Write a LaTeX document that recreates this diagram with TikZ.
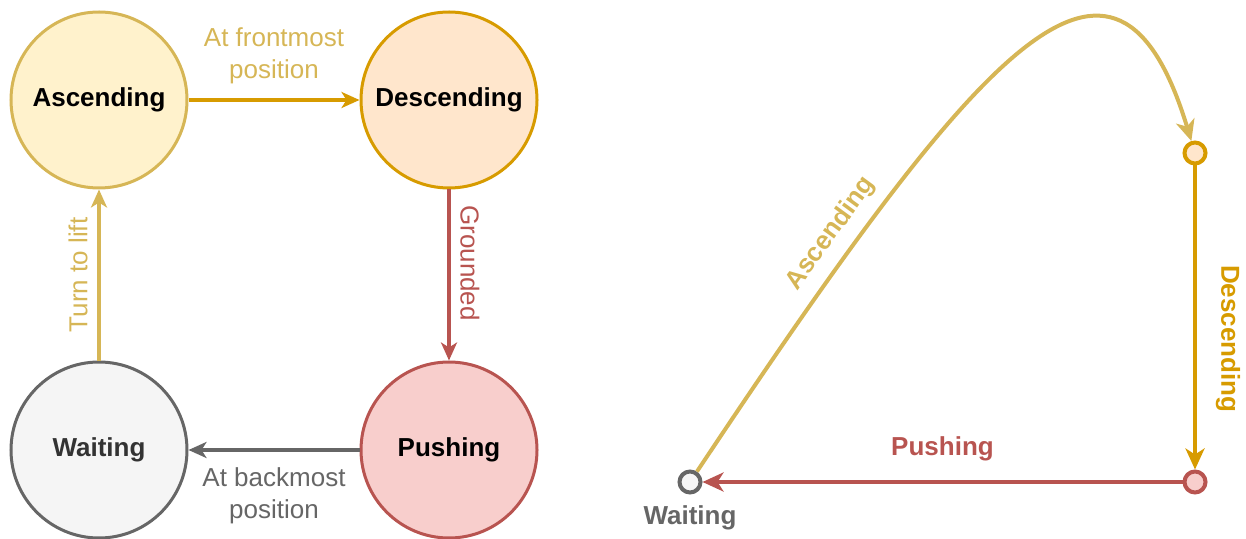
\documentclass[tikz,border=0pt]{standalone}
\usepackage{fontspec}
\setmainfont{Liberation Sans}
\usepackage{tikz}
\usetikzlibrary{arrows.meta}

\definecolor{ascfill}{HTML}{FFF2CC}
\definecolor{ascline}{HTML}{D6B656}
\definecolor{descfill}{HTML}{FFE6CC}
\definecolor{descline}{HTML}{D79B00}
\definecolor{pushfill}{HTML}{F8CECC}
\definecolor{pushline}{HTML}{B85450}
\definecolor{waitfill}{HTML}{F5F5F5}
\definecolor{waitline}{HTML}{666666}

\begin{document}
\begin{tikzpicture}[x=0.5pt,y=-0.5pt]
  \tikzset{tipA/.tip={Stealth[length=9pt,width=8pt,inset=2.5pt]}}
  \tikzset{tipB/.tip={Stealth[length=10.5pt,width=9.5pt,inset=3pt]}}
  \tikzset{state/.style = {shape=circle,draw,line width=1.5pt,minimum size=88pt,inner sep=1pt,font=\fontsize{13}{16}\selectfont\bfseries}}
  \tikzset{dot/.style = {shape=circle,draw,line width=2pt,minimum size=10.5pt,inner sep=0pt}}
  \tikzset{edge/.style = {-tipA, line width=1.6pt}}
  \tikzset{track/.style = {-tipB, line width=2pt}}
  \tikzset{lbl/.style = {font=\fontsize{13}{16}\selectfont, align=center}}
  \tikzset{blbl/.style = {font=\fontsize{13}{16}\selectfont\bfseries, align=center}}

  \useasboundingbox (0,0) rectangle (1246,539);

  % state machine
  \node[state, draw=ascline, fill=ascfill] (Asc) at (99,100) {Ascending};
  \node[state, draw=descline, fill=descfill] (Desc) at (449,100) {Descending};
  \node[state, draw=pushline, fill=pushfill] (Push) at (449,450) {Pushing};
  \node[state, draw=waitline, fill=waitfill, text=black!80] (Wait) at (99,450) {Waiting};

  \draw[edge, descline] (Asc) -- node[lbl, midway, above=4pt, text=ascline] {At frontmost\\position} (Desc);
  \draw[edge, pushline] (Desc) -- node[lbl, pos=0.43, xshift=10.5pt, rotate=-90, text=pushline] {Grounded} (Push);
  \draw[edge, waitline] (Push) -- node[lbl, midway, below=4.5pt, text=waitline] {At backmost\\position} (Wait);
  \draw[edge, ascline] (Wait) -- node[lbl, midway, xshift=-10.5pt, rotate=90, text=ascline] {Turn to lift} (Asc);

  % trajectory
  \node[dot, draw=descline, fill=descfill] (dDesc) at (1195,153) {};
  \node[dot, draw=pushline, fill=pushfill] (dPush) at (1195,482) {};
  \node[dot, draw=waitline, fill=waitfill] (dWait) at (690,482) {};
  \node[blbl, text=waitline] (tWait) at (690,518) {Waiting};

  \draw[track, descline] (dDesc) -- node[blbl, pos=0.57, xshift=16.5pt, rotate=-90, text=descline] {Descending} (dPush);
  \draw[track, pushline] (dPush) -- node[blbl, midway, above=6pt, text=pushline] {Pushing} (dWait);
  \draw[track, ascline] (dWait) .. controls (983,42) and (1115,-110) .. node[blbl, pos=0.2, sloped, above=2pt, text=ascline] {Ascending} (dDesc);
\end{tikzpicture}
\end{document}
